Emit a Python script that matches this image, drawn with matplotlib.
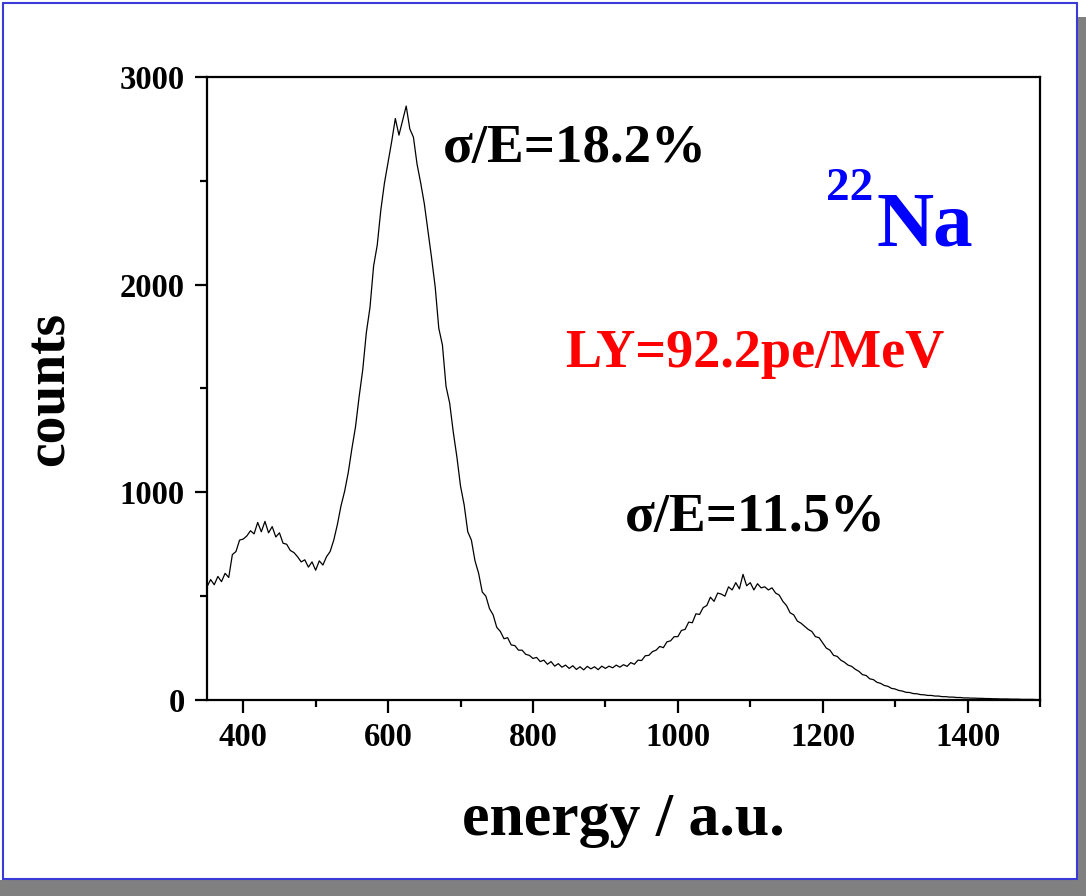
import numpy as np
import matplotlib.pyplot as plt
from matplotlib.patches import Rectangle
from matplotlib.ticker import MultipleLocator

# 22Na spectrum, counts per 5-unit bin starting at energy 350
energy_start = 350
energy_step = 5
counts = [
    545, 580, 555, 595, 570, 610, 590, 700, 715, 770,
    775, 790, 815, 800, 855, 810, 860, 805, 835, 785,
    805, 755, 750, 720, 710, 690, 665, 675, 640, 665,
    625, 670, 650, 690, 715, 770, 845, 935, 1005, 1095,
    1210, 1315, 1460, 1590, 1770, 1890, 2090, 2190, 2360, 2490,
    2590, 2690, 2800, 2720, 2790, 2860, 2750, 2710, 2580, 2490,
    2390, 2260, 2130, 1990, 1790, 1710, 1510, 1430, 1290, 1170,
    1030, 940, 810, 770, 670, 610, 520, 500, 440, 410,
    350, 330, 295, 300, 265, 262, 240, 240, 220, 215,
    200, 205, 185, 192, 172, 185, 163, 175, 158, 168,
    152, 165, 147, 160, 145, 162, 150, 160, 146, 163,
    152, 163, 155, 168, 158, 170, 162, 180, 172, 192,
    190, 213, 215, 233, 240, 258, 252, 280, 285, 305,
    305, 335, 340, 375, 372, 415, 412, 445, 455, 495,
    475, 515, 510, 500, 545, 530, 565, 535, 605, 550,
    565, 530, 560, 540, 545, 530, 540, 515, 505, 475,
    455, 420, 410, 380, 370, 355, 340, 330, 305, 300,
    275, 250, 240, 215, 210, 192, 182, 168, 162, 148,
    138, 122, 118, 102, 98, 85, 80, 70, 66, 56,
    53, 46, 43, 37, 36, 31, 30, 26, 25, 22,
    22, 19, 19, 16, 16, 14, 14, 12, 12, 10,
    10, 9, 9, 8, 8, 7, 7, 6, 6, 5,
    5, 5, 4, 4, 4, 3, 3, 3, 3, 2,
    2,
]
energy = energy_start + energy_step * np.arange(len(counts))

res_main = r'σ/E=18.2%'
res_high = r'σ/E=11.5%'
light_yield = 'LY=92.2pe/MeV'

plt.rcParams['font.family'] = ['Liberation Serif', 'DejaVu Serif']
plt.rcParams['font.weight'] = 'bold'

fig = plt.figure(figsize=(10.86, 8.96), dpi=100)

# slide frame: blue border with grey shadow
fig.patches.append(Rectangle((1078 / 1086, 0), 8 / 1086, 879 / 896, transform=fig.transFigure,
                             facecolor='#808080', edgecolor='none', zorder=0))
fig.patches.append(Rectangle((0, 0), 1, 16 / 896, transform=fig.transFigure,
                             facecolor='#808080', edgecolor='none', zorder=0))
fig.patches.append(Rectangle((3 / 1086, 17 / 896), 1074 / 1086, 876 / 896, transform=fig.transFigure,
                             facecolor='white', edgecolor='#3a3ad8', linewidth=1.5, zorder=1))

ax = fig.add_axes([207 / 1086, 196 / 896, 833 / 1086, 623 / 896])
ax.set_zorder(2)
ax.patch.set_alpha(0)

ax.plot(energy, counts, color='black', linewidth=0.9)

ax.set_xlim(350, 1500)
ax.set_ylim(0, 3000)
ax.xaxis.set_major_locator(MultipleLocator(200))
ax.xaxis.set_minor_locator(MultipleLocator(100))
ax.yaxis.set_major_locator(MultipleLocator(1000))
ax.yaxis.set_minor_locator(MultipleLocator(500))

for s in ax.spines.values():
    s.set_linewidth(1.6)
ax.tick_params(which='major', direction='out', length=9, width=1.6, labelsize=23.5, pad=7)
ax.tick_params(which='minor', direction='out', length=5, width=1.6)
for lab in ax.get_xticklabels() + ax.get_yticklabels():
    lab.set_fontweight('bold')

ax.set_xlabel('energy / a.u.', fontsize=44.5, fontweight='bold', labelpad=28)
ax.set_ylabel('counts', fontsize=40, fontweight='bold', labelpad=32)

ax.text(0.283, 0.8636, res_main, transform=ax.transAxes, fontsize=39.5, fontweight='bold',
        ha='left', va='baseline')
ax.text(0.502, 0.271, res_high, transform=ax.transAxes, fontsize=39.5, fontweight='bold',
        ha='left', va='baseline')
ax.text(0.43, 0.5345, light_yield, transform=ax.transAxes, fontsize=39, fontweight='bold',
        color='#ff0000', ha='left', va='baseline')
ax.text(0.7995, 0.8026, '22', transform=ax.transAxes, fontsize=34, fontweight='bold',
        color='#0000ff', ha='right', va='baseline')
ax.text(0.804, 0.730, 'Na', transform=ax.transAxes, fontsize=57, fontweight='bold',
        color='#0000ff', ha='left', va='baseline')

fig.savefig('out.png', dpi=100)
